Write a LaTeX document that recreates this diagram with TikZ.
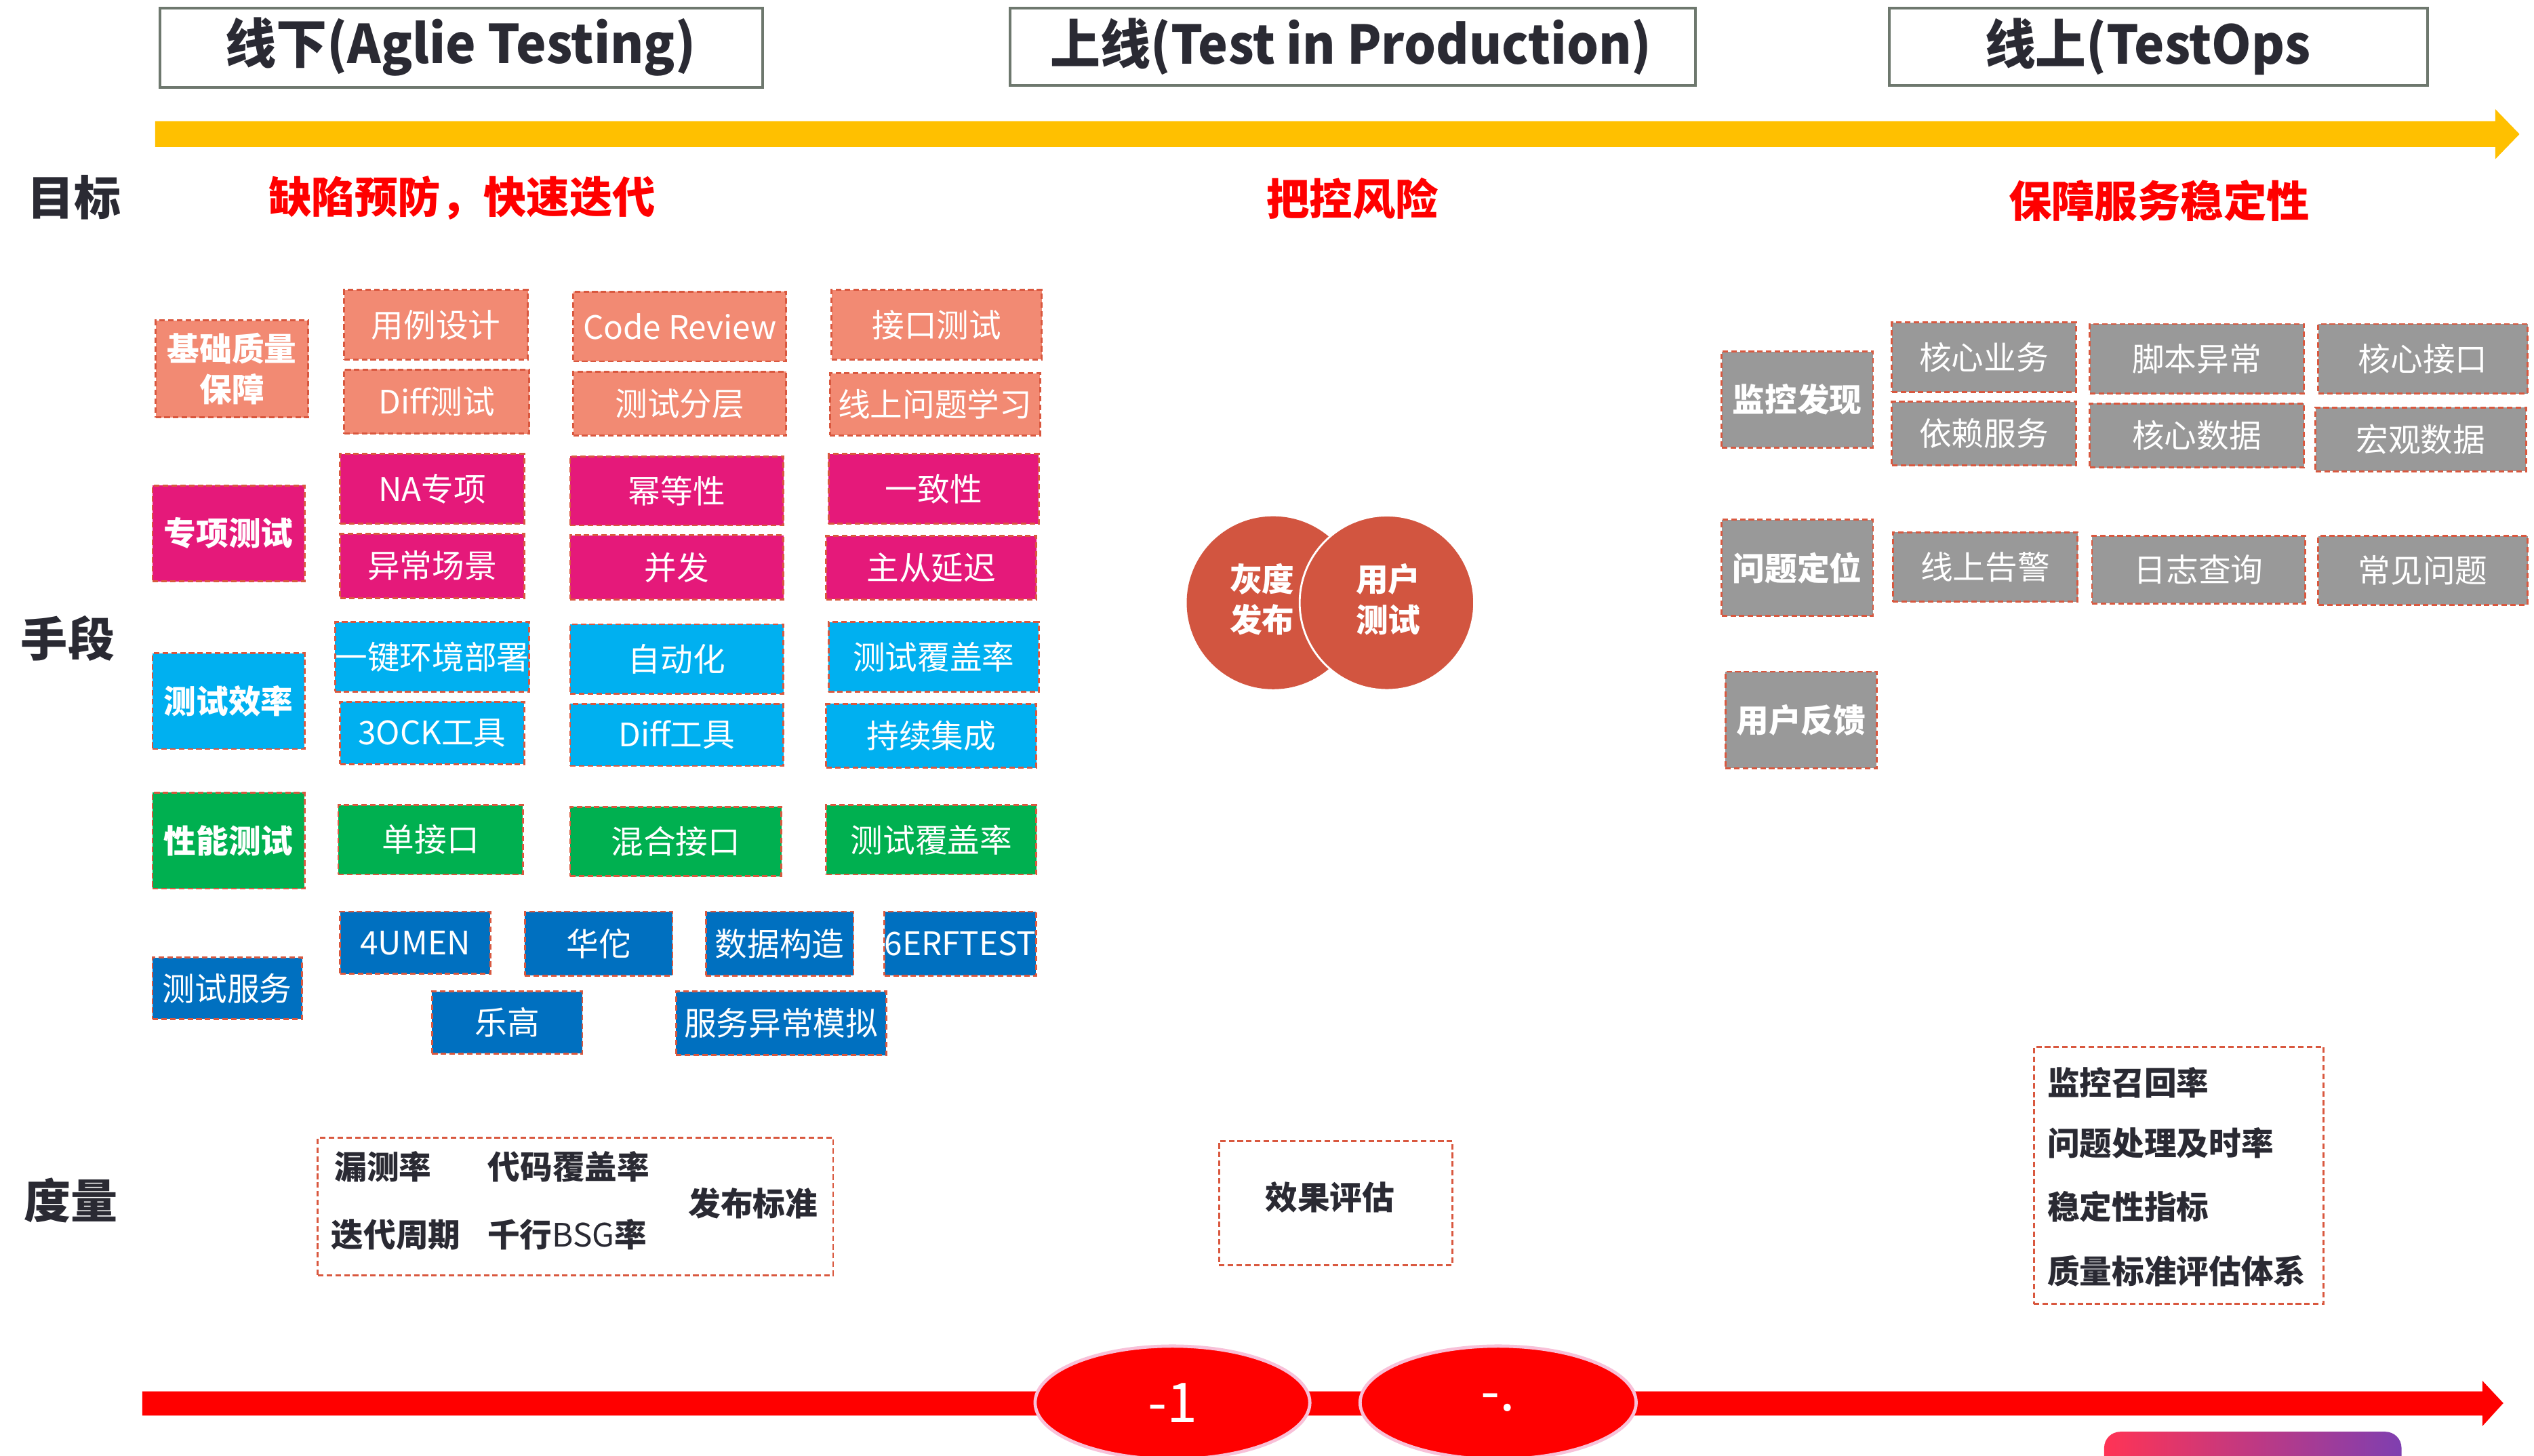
\documentclass[tikz,border=0pt]{standalone}
\usepackage{fontspec}
\setmainfont{Noto Sans CJK SC}
\usepackage{graphicx}
\usetikzlibrary{shapes.geometric}
\definecolor{dashc}{HTML}{D9583F}
\definecolor{hdrc}{HTML}{6E786E}
\definecolor{darktext}{HTML}{2A2A33}
\definecolor{salm}{HTML}{F28A73}
\definecolor{pinkc}{HTML}{E5197A}
\definecolor{cyanc}{HTML}{00B0F0}
\definecolor{greenc}{HTML}{00B050}
\definecolor{blued}{HTML}{0070C0}
\definecolor{grayc}{HTML}{999999}
\definecolor{circc}{HTML}{D25540}
\definecolor{yel}{HTML}{FFC000}
\definecolor{redc}{HTML}{FF0000}
\definecolor{pinkline}{HTML}{F8C0D8}
\definecolor{gl}{HTML}{FF3355}
\definecolor{gm}{HTML}{B5198A}
\definecolor{gr}{HTML}{7F3FB0}
\tikzset{
  bd/.style={draw=dashc, line width=0.6pt, dash pattern=on 1.7pt off 1pt},
  itm/.style={bd, inner sep=0pt, text=white, font=\fontsize{10}{12}\selectfont},
  cat/.style={bd, inner sep=0pt, text=white, font=\bfseries\fontsize{10}{12.5}\selectfont, align=center},
  hdr/.style={draw=hdrc, line width=0.8pt, inner sep=0pt, fill=white},
  htxt/.style={text=darktext, font=\bfseries\fontsize{16.5}{19}\selectfont, inner sep=0pt},
  goal/.style={text=redc, font=\bfseries\fontsize{13.3}{16}\selectfont, inner sep=0pt},
  side/.style={text=darktext, font=\bfseries\fontsize{14.5}{17}\selectfont, inner sep=0pt},
  met/.style={text=darktext, font=\bfseries\fontsize{10}{12}\selectfont, inner sep=0pt},
  mbox/.style={bd, inner sep=0pt, fill=white},
  circtxt/.style={text=white, font=\bfseries\fontsize{10}{12.5}\selectfont, align=center, inner sep=0pt},
  oval/.style={ellipse, fill=redc, draw=pinkline, line width=1pt, inner sep=0pt, text=white, font=\fontsize{17}{20}\selectfont},
}
\newcommand\bx[7]{\node[#6, minimum width={(#4-#2)*0.5pt}, minimum height={(#5-#3)*0.5pt}] (#1) at ({(#2+#4)/2},{(#3+#5)/2}) {#7};}
\begin{document}
\begin{tikzpicture}[x=0.5pt, y=-0.5pt]
\useasboundingbox (0,0) rectangle (1568,901);
\fill[white] (0,0) rectangle (1568,901);

% headers
\bx{h1}{99}{5}{472}{54}{hdr}{}
\bx{h2}{625}{5}{1049}{53}{hdr}{}
\bx{h3}{1169}{5}{1502}{53}{hdr}{}
\node[htxt] (h1t) at (285,29) {\scalebox{0.955}[1]{线下(Aglie Testing)}};
\node[htxt] (h2t) at (836,29) {\scalebox{0.94}[1]{上线(Test in Production)}};
\node[htxt] (h3t) at (1329,29) {\scalebox{0.95}[1]{线上(TestOps}};

% yellow arrow
\fill[yel] (96,75) -- (1544,75) -- (1544,67.5) -- (1559,83) -- (1544,98.5) -- (1544,91) -- (96,91) -- cycle;

% side labels
\node[side] (l1) at (46,122) {目标};
\node[side] (l2) at (42,395) {手段};
\node[side] (l3) at (44,743) {度量};

% goals
\node[goal] (g1t) at (286,122.5) {缺陷预防，快速迭代};
\node[goal] (g2t) at (837,123) {把控风险};
\node[goal] (g3t) at (1336,124) {保障服务稳定性};

% salmon
\bx{c1}{96.3}{198.3}{190.7}{258.2}{cat, fill=salm}{基础质量\\保障}
\bx{a1}{213}{179.4}{326.6}{222.5}{itm, fill=salm}{用例设计}
\bx{a2}{354.7}{180.5}{486.5}{223.6}{itm, fill=salm}{Code Review}
\bx{a3}{514.6}{179.4}{644.6}{222.5}{itm, fill=salm}{接口测试}
\bx{a4}{213}{228.7}{327.5}{268.4}{itm, fill=salm}{Diff测试}
\bx{a5}{354.7}{230}{486.5}{269.5}{itm, fill=salm}{测试分层}
\bx{a6}{513.5}{231}{643.5}{269.5}{itm, fill=salm}{线上问题学习}
% pink
\bx{c2}{94.4}{300.4}{188.4}{359.7}{cat, fill=pinkc}{专项测试}
\bx{b1}{210.5}{281}{324.3}{324.2}{itm, fill=pinkc}{NA专项}
\bx{b2}{352.8}{282.4}{484.7}{325.1}{itm, fill=pinkc}{幂等性}
\bx{b3}{512.8}{281}{642.7}{324.2}{itm, fill=pinkc}{一致性}
\bx{b4}{210.5}{330.4}{324.3}{370}{itm, fill=pinkc}{异常场景}
\bx{b5}{352.8}{331.3}{484.7}{371}{itm, fill=pinkc}{并发}
\bx{b6}{511.3}{331.7}{641.3}{371}{itm, fill=pinkc}{主从延迟}
% cyan
\bx{c3}{94.4}{404.3}{188.4}{463.5}{cat, fill=cyanc}{测试效率}
\bx{d1}{210.5}{385}{324.3}{428}{itm, fill=cyanc}{一键环境部署}
\bx{d2}{352.8}{386.3}{484.7}{429.4}{itm, fill=cyanc}{自动化}
\bx{d3}{512.8}{385}{642.7}{428}{itm, fill=cyanc}{测试覆盖率}
\bx{d4}{210.5}{434.2}{324.3}{472.9}{itm, fill=cyanc}{3OCK工具}
\bx{d5}{352.8}{435.6}{484.7}{474}{itm, fill=cyanc}{Diff工具}
\bx{d6}{511.3}{435.6}{641.3}{475.1}{itm, fill=cyanc}{持续集成}
% green
\bx{c4}{94.4}{490.5}{188.4}{549.9}{cat, fill=greenc}{性能测试}
\bx{e1}{209.3}{498.2}{323.6}{541.1}{itm, fill=greenc}{单接口}
\bx{e2}{352.8}{499.2}{483.5}{542.2}{itm, fill=greenc}{混合接口}
\bx{e3}{511.3}{498.2}{641.3}{541.1}{itm, fill=greenc}{测试覆盖率}
% dark blue
\bx{c5}{94.4}{592.5}{186.9}{630.6}{itm, fill=blued}{测试服务}
\bx{s1}{210.5}{564.2}{303.4}{602.7}{itm, fill=blued}{4UMEN}
\bx{s2}{324.7}{564.2}{416.1}{603.7}{itm, fill=blued}{华佗}
\bx{s3}{436.7}{564.2}{528.1}{603.7}{itm, fill=blued}{数据构造}
\bx{s4}{548.3}{564.2}{640.1}{603.7}{itm, fill=blued}{6ERFTEST}
\bx{s5}{267.4}{613.6}{360.3}{651.9}{itm, fill=blued}{乐高}
\bx{s6}{418.3}{613.6}{548.3}{653}{itm, fill=blued}{服务异常模拟}

% circles
\node[circle, fill=circc, minimum size=53.5pt, inner sep=0pt] (cl) at (787.8,373) {};
\node[circle, fill=circc, draw=white, line width=0.6pt, minimum size=54pt, inner sep=0pt] (cr) at (858.2,373) {};
\node[circtxt] (clt) at (781,371) {灰度\\发布};
\node[circtxt] (crt) at (859,371) {用户\\测试};

% gray
\bx{m1}{1065.3}{217.5}{1159}{277}{cat, fill=grayc}{监控发现}
\bx{r1}{1170.6}{199.5}{1284.5}{242.5}{itm, fill=grayc}{核心业务}
\bx{r2}{1293.1}{200.5}{1425.6}{243.5}{itm, fill=grayc}{脚本异常}
\bx{r3}{1434.5}{200.5}{1564}{243.5}{itm, fill=grayc}{核心接口}
\bx{r4}{1170.6}{248.7}{1284.5}{288}{itm, fill=grayc}{依赖服务}
\bx{r5}{1293.1}{249.7}{1425.6}{289.3}{itm, fill=grayc}{核心数据}
\bx{r6}{1432.8}{252.2}{1563}{291.7}{itm, fill=grayc}{宏观数据}
\bx{m2}{1065.3}{321.6}{1159}{381.1}{cat, fill=grayc}{问题定位}
\bx{r7}{1171.3}{329.4}{1285.5}{372.3}{itm, fill=grayc}{线上告警}
\bx{r8}{1294.5}{331.7}{1426.3}{373.4}{itm, fill=grayc}{日志查询}
\bx{r9}{1434.5}{331.7}{1564}{374.3}{itm, fill=grayc}{常见问题}
\bx{m3}{1067.6}{415.7}{1161.3}{475.3}{cat, fill=grayc}{用户反馈}

% metrics
\bx{mb1}{196.7}{704}{515.5}{789.3}{mbox}{}
\node[met] (t1) at (237,722) {漏测率};
\node[met] (t2) at (352,722) {代码覆盖率};
\node[met] (t3) at (245,764) {迭代周期};
\node[met] (t4) at (351,764) {千行\mdseries BSG\bfseries 率};
\node[met] (t5) at (466,744.5) {发布标准};
\bx{mb2}{754.3}{706}{898.8}{782.8}{mbox}{}
\node[met] (t6) at (823,741) {效果评估};
\bx{mb3}{1258.5}{648}{1437.9}{807}{mbox}{}
\node[met, anchor=west] (u1) at (1266.5,670) {监控召回率};
\node[met, anchor=west] (u2) at (1266.5,707.5) {问题处理及时率};
\node[met, anchor=west] (u3) at (1266.5,746.5) {稳定性指标};
\node[met, anchor=west] (u4) at (1266.5,786.5) {质量标准评估体系};

% red arrow
\fill[redc] (88,861) -- (1536,861) -- (1536,854.4) -- (1549,868.3) -- (1536,882.6) -- (1536,876) -- (88,876) -- cycle;
\node[oval, minimum width=85pt, minimum height=35pt] (o1) at (725.5,868) {-1};
\node[oval, minimum width=85.4pt, minimum height=35pt] (o2) at (927,868) {-.};

% gradient shape
\shade[left color=gl, middle color=gm, right color=gr, rounded corners=5pt] (1302,915) rectangle (1486,886);
\end{tikzpicture}
\end{document}
